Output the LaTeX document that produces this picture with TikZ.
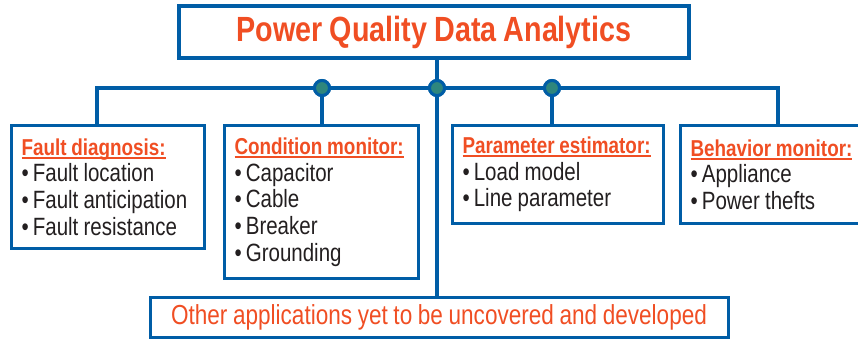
\documentclass[tikz,border=0pt]{standalone}
\usepackage{fontspec}
\setmainfont{Liberation Sans}[FakeStretch=0.82, WordSpace=0.9]
\usetikzlibrary{positioning}
\definecolor{pqblue}{RGB}{0,93,166}
\definecolor{pqred}{RGB}{240,78,35}
\definecolor{pqteal}{RGB}{46,134,125}
\definecolor{pqtext}{RGB}{35,31,32}
\newcommand{\apphead}[1]{{\fontsize{23}{26.5}\selectfont\bfseries\color{pqred}%
  \setbox0\hbox{#1}\rlap{\rule[-3.5pt]{\wd0}{1.6pt}}\box0}}

\begin{document}
\begin{tikzpicture}[x=1pt,y=-1pt,
  link/.style={draw=pqblue, line width=4pt},
  appbox/.style={draw=pqblue, line width=3pt, anchor=north west, align=flush left,
    inner xsep=10pt, inner ysep=0pt, text=pqtext, font=\fontsize{25}{26.7}\selectfont},
  hubdot/.style={circle, draw=pqblue, fill=pqteal, line width=3pt, minimum size=15pt, inner sep=0pt}]
\useasboundingbox (0,0) rectangle (858,338);
% title
\node[draw=pqblue, line width=4pt, minimum width=510pt, minimum height=52pt,
  text=pqred, font=\fontsize{35}{40}\selectfont\bfseries] (title) at (434,32) {Power Quality Data Analytics};
% application boxes
\node[appbox, minimum width=193pt, minimum height=123pt, text width=173pt] (fault) at (10,124)
  {\apphead{Fault diagnosis:}\\ \textbullet\,Fault location\\ \textbullet\,Fault anticipation\\ \textbullet\,Fault resistance};
\node[appbox, minimum width=194pt, minimum height=153pt, text width=174pt] (cond) at (223,124)
  {\apphead{Condition monitor:}\\ \textbullet\,Capacitor\\ \textbullet\,Cable\\ \textbullet\,Breaker\\ \textbullet\,Grounding};
\node[appbox, minimum width=211pt, minimum height=98pt, text width=191pt] (param) at (451,124)
  {\apphead{Parameter estimator:}\\ \textbullet\,Load model\\ \textbullet\,Line parameter};
\node[appbox, minimum width=186pt, minimum height=98pt, text width=166pt] (behav) at (679,124)
  {\apphead{Behavior monitor:}\\ \textbullet\,Appliance\\ \textbullet\,Power thefts};
\node[draw=pqblue, line width=3pt, minimum width=578pt, minimum height=40pt, text=pqred,
  font=\fontsize{27.5}{30}\selectfont] (other) at (439,317) {Other applications yet to be uncovered and developed};
% bus
\coordinate (lend) at (97,88);
\coordinate (rend) at (778,88);
\node[hubdot] (dotb) at (322,88) {};
\node[hubdot] (dotm) at (437,88) {};
\node[hubdot] (dotc) at (552,88) {};
\draw[link] (title.south -| dotm) -- (dotm.center);
\draw[link] (fault.north -| lend) -- (lend) -- (rend) -- (behav.north -| rend);
\draw[link] (dotb.center) -- (cond.north -| dotb);
\draw[link] (dotc.center) -- (param.north -| dotc);
\draw[link] (dotm.center) -- (other.north -| dotm);
\foreach \d in {dotb,dotm,dotc}
  \node[hubdot] at (\d) {};
\end{tikzpicture}
\end{document}
